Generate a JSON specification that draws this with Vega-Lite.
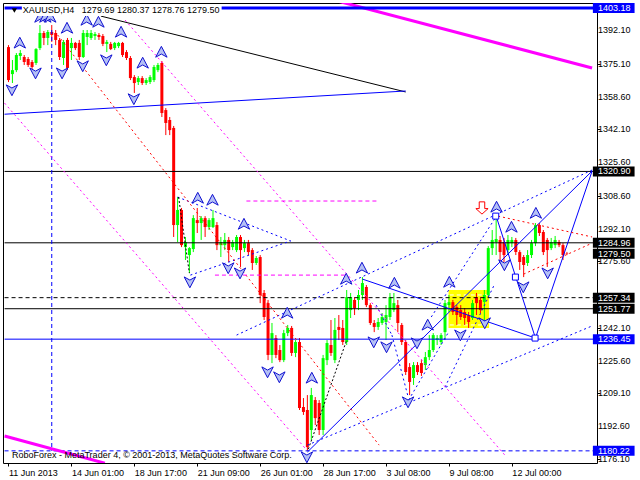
{
"$schema":"https://vega.github.io/schema/vega-lite/v6.json",
"width":594,"height":460,
"autosize":{"type":"none"},
"padding":{"left":3,"top":3,"right":43,"bottom":17},
"background":"white",
"config":{"view":{"stroke":"#000000","strokeWidth":1},"axis":{"labelFont":"Liberation Sans","labelFontSize":9,"labelColor":"#000000","tickColor":"#000000"}},
"datasets":{
"bars":[
{"i":0,"o":1383.5,"h":1384.5,"l":1365.9,"c":1366.9},
{"i":1,"o":1369.9,"h":1377.0,"l":1365.4,"c":1371.9},
{"i":2,"o":1371.9,"h":1380.5,"l":1370.9,"c":1379.5},
{"i":3,"o":1379.0,"h":1382.0,"l":1377.0,"c":1380.5},
{"i":4,"o":1378.5,"h":1379.5,"l":1374.5,"c":1376.0},
{"i":5,"o":1377.5,"h":1378.5,"l":1373.5,"c":1374.5},
{"i":6,"o":1376.0,"h":1377.0,"l":1371.9,"c":1373.5},
{"i":7,"o":1375.5,"h":1383.0,"l":1374.5,"c":1382.5},
{"i":8,"o":1383.0,"h":1394.6,"l":1382.0,"c":1390.6},
{"i":9,"o":1390.6,"h":1391.6,"l":1384.5,"c":1388.1},
{"i":10,"o":1388.1,"h":1392.1,"l":1384.5,"c":1391.1},
{"i":11,"o":1391.1,"h":1394.6,"l":1386.1,"c":1389.6},
{"i":12,"o":1390.6,"h":1392.1,"l":1384.5,"c":1387.1},
{"i":13,"o":1387.1,"h":1388.1,"l":1377.0,"c":1378.5},
{"i":14,"o":1378.0,"h":1387.1,"l":1374.5,"c":1386.1},
{"i":15,"o":1387.1,"h":1388.1,"l":1371.9,"c":1373.0},
{"i":16,"o":1383.0,"h":1388.1,"l":1377.0,"c":1385.6},
{"i":17,"o":1385.6,"h":1386.1,"l":1382.0,"c":1383.0},
{"i":18,"o":1385.6,"h":1387.1,"l":1377.0,"c":1378.5},
{"i":19,"o":1378.5,"h":1392.1,"l":1378.0,"c":1390.6},
{"i":20,"o":1388.6,"h":1392.1,"l":1384.5,"c":1390.6},
{"i":21,"o":1388.1,"h":1392.1,"l":1387.1,"c":1390.6},
{"i":22,"o":1389.1,"h":1391.1,"l":1387.1,"c":1390.1},
{"i":23,"o":1389.6,"h":1390.6,"l":1387.1,"c":1388.6},
{"i":24,"o":1389.1,"h":1390.1,"l":1384.0,"c":1385.1},
{"i":25,"o":1385.1,"h":1387.1,"l":1381.0,"c":1386.1},
{"i":26,"o":1385.1,"h":1386.1,"l":1382.0,"c":1382.5},
{"i":27,"o":1383.0,"h":1386.1,"l":1382.0,"c":1385.6},
{"i":28,"o":1384.0,"h":1386.1,"l":1383.0,"c":1385.6},
{"i":29,"o":1385.6,"h":1386.1,"l":1378.5,"c":1379.5},
{"i":30,"o":1381.0,"h":1382.0,"l":1377.0,"c":1378.0},
{"i":31,"o":1378.0,"h":1379.0,"l":1366.9,"c":1367.9},
{"i":32,"o":1368.4,"h":1369.4,"l":1360.4,"c":1365.4},
{"i":33,"o":1365.9,"h":1368.9,"l":1364.4,"c":1367.9},
{"i":34,"o":1367.9,"h":1368.9,"l":1364.4,"c":1365.4},
{"i":35,"o":1365.4,"h":1367.9,"l":1364.4,"c":1366.9},
{"i":36,"o":1365.9,"h":1369.4,"l":1364.9,"c":1368.4},
{"i":37,"o":1366.9,"h":1374.5,"l":1365.9,"c":1373.5},
{"i":38,"o":1371.9,"h":1375.5,"l":1370.9,"c":1374.5},
{"i":39,"o":1375.5,"h":1376.5,"l":1348.3,"c":1350.3},
{"i":40,"o":1351.8,"h":1352.8,"l":1339.2,"c":1345.3},
{"i":41,"o":1346.8,"h":1348.3,"l":1339.2,"c":1341.7},
{"i":42,"o":1342.8,"h":1343.8,"l":1287.9,"c":1293.9},
{"i":43,"o":1293.9,"h":1308.0,"l":1285.3,"c":1301.5},
{"i":44,"o":1301.5,"h":1302.5,"l":1282.8,"c":1283.8},
{"i":45,"o":1282.8,"h":1287.9,"l":1276.3,"c":1285.3},
{"i":46,"o":1278.8,"h":1282.8,"l":1269.7,"c":1282.3},
{"i":47,"o":1281.8,"h":1298.9,"l":1280.3,"c":1297.4},
{"i":48,"o":1296.4,"h":1302.5,"l":1289.9,"c":1294.9},
{"i":49,"o":1294.9,"h":1298.4,"l":1286.4,"c":1297.4},
{"i":50,"o":1297.4,"h":1298.4,"l":1287.9,"c":1292.9},
{"i":51,"o":1292.9,"h":1297.4,"l":1291.4,"c":1296.4},
{"i":52,"o":1292.9,"h":1301.5,"l":1292.4,"c":1297.4},
{"i":53,"o":1293.9,"h":1295.4,"l":1281.3,"c":1283.8},
{"i":54,"o":1283.8,"h":1287.9,"l":1277.8,"c":1285.3},
{"i":55,"o":1283.8,"h":1289.9,"l":1281.3,"c":1286.4},
{"i":56,"o":1286.4,"h":1287.9,"l":1275.3,"c":1281.3},
{"i":57,"o":1282.8,"h":1286.4,"l":1281.3,"c":1285.3},
{"i":58,"o":1281.3,"h":1288.9,"l":1280.3,"c":1287.9},
{"i":59,"o":1287.9,"h":1288.9,"l":1272.8,"c":1281.3},
{"i":60,"o":1282.3,"h":1286.4,"l":1280.3,"c":1284.8},
{"i":61,"o":1284.8,"h":1286.4,"l":1278.8,"c":1280.3},
{"i":62,"o":1281.3,"h":1282.3,"l":1271.3,"c":1274.8},
{"i":63,"o":1274.8,"h":1278.3,"l":1273.8,"c":1277.3},
{"i":64,"o":1277.8,"h":1278.8,"l":1254.6,"c":1258.7},
{"i":65,"o":1259.7,"h":1261.2,"l":1246.1,"c":1247.6},
{"i":66,"o":1254.6,"h":1256.2,"l":1225.9,"c":1228.5},
{"i":67,"o":1228.5,"h":1244.6,"l":1224.4,"c":1239.5},
{"i":68,"o":1237.0,"h":1238.5,"l":1226.9,"c":1228.5},
{"i":69,"o":1231.0,"h":1233.5,"l":1224.9,"c":1225.9},
{"i":70,"o":1225.9,"h":1241.1,"l":1224.9,"c":1239.5},
{"i":71,"o":1239.5,"h":1243.6,"l":1238.0,"c":1242.1},
{"i":72,"o":1242.1,"h":1243.1,"l":1228.0,"c":1229.5},
{"i":73,"o":1229.5,"h":1236.0,"l":1227.4,"c":1235.0},
{"i":74,"o":1235.0,"h":1237.0,"l":1200.8,"c":1201.8},
{"i":75,"o":1202.3,"h":1206.8,"l":1198.3,"c":1199.8},
{"i":76,"o":1200.8,"h":1208.3,"l":1180.22,"c":1182.1},
{"i":77,"o":1190.7,"h":1211.9,"l":1185.7,"c":1208.3},
{"i":78,"o":1205.8,"h":1207.3,"l":1193.2,"c":1196.7},
{"i":79,"o":1204.3,"h":1205.8,"l":1188.2,"c":1190.7},
{"i":80,"o":1190.7,"h":1228.5,"l":1188.2,"c":1226.9},
{"i":81,"o":1225.9,"h":1236.0,"l":1223.4,"c":1234.5},
{"i":82,"o":1233.5,"h":1246.1,"l":1228.0,"c":1229.5},
{"i":83,"o":1225.9,"h":1247.1,"l":1224.4,"c":1241.1},
{"i":84,"o":1242.6,"h":1248.6,"l":1236.0,"c":1241.1},
{"i":85,"o":1242.1,"h":1246.1,"l":1233.5,"c":1235.0},
{"i":86,"o":1235.0,"h":1261.2,"l":1233.5,"c":1257.6},
{"i":87,"o":1251.1,"h":1259.7,"l":1247.1,"c":1257.6},
{"i":88,"o":1256.2,"h":1257.6,"l":1248.6,"c":1252.1},
{"i":89,"o":1256.2,"h":1261.2,"l":1251.1,"c":1258.7},
{"i":90,"o":1258.7,"h":1267.7,"l":1256.2,"c":1264.7},
{"i":91,"o":1262.7,"h":1263.7,"l":1252.6,"c":1253.6},
{"i":92,"o":1253.6,"h":1254.6,"l":1243.6,"c":1244.6},
{"i":93,"o":1244.6,"h":1246.1,"l":1240.0,"c":1242.6},
{"i":94,"o":1242.6,"h":1247.1,"l":1241.1,"c":1245.1},
{"i":95,"o":1244.6,"h":1249.6,"l":1243.6,"c":1247.6},
{"i":96,"o":1245.1,"h":1253.6,"l":1236.0,"c":1248.6},
{"i":97,"o":1247.6,"h":1259.7,"l":1246.1,"c":1257.6},
{"i":98,"o":1251.1,"h":1259.7,"l":1250.1,"c":1254.6},
{"i":99,"o":1253.6,"h":1256.2,"l":1240.0,"c":1244.6},
{"i":100,"o":1243.6,"h":1244.6,"l":1233.5,"c":1235.0},
{"i":101,"o":1235.0,"h":1236.0,"l":1218.4,"c":1219.9},
{"i":102,"o":1222.4,"h":1224.4,"l":1208.3,"c":1214.9},
{"i":103,"o":1216.9,"h":1224.9,"l":1213.4,"c":1223.4},
{"i":104,"o":1223.4,"h":1224.9,"l":1218.4,"c":1219.9},
{"i":105,"o":1224.4,"h":1225.9,"l":1217.9,"c":1219.4},
{"i":106,"o":1223.4,"h":1230.0,"l":1220.9,"c":1227.4},
{"i":107,"o":1227.4,"h":1238.5,"l":1225.9,"c":1231.0},
{"i":108,"o":1231.0,"h":1239.5,"l":1230.0,"c":1238.5},
{"i":109,"o":1236.0,"h":1238.5,"l":1233.5,"c":1237.0},
{"i":110,"o":1235.0,"h":1239.5,"l":1233.5,"c":1238.5},
{"i":111,"o":1240.0,"h":1256.2,"l":1236.0,"c":1254.6},
{"i":112,"o":1253.6,"h":1258.7,"l":1250.1,"c":1255.1},
{"i":113,"o":1255.1,"h":1256.2,"l":1248.6,"c":1250.1},
{"i":114,"o":1252.6,"h":1253.6,"l":1243.6,"c":1248.6},
{"i":115,"o":1251.1,"h":1253.6,"l":1246.1,"c":1247.6},
{"i":116,"o":1250.1,"h":1252.1,"l":1243.6,"c":1247.1},
{"i":117,"o":1248.6,"h":1250.1,"l":1242.1,"c":1245.1},
{"i":118,"o":1247.1,"h":1256.2,"l":1246.1,"c":1254.6},
{"i":119,"o":1257.6,"h":1259.7,"l":1248.6,"c":1254.6},
{"i":120,"o":1256.2,"h":1257.6,"l":1249.6,"c":1251.1},
{"i":121,"o":1255.2,"h":1261.2,"l":1246.1,"c":1258.7},
{"i":122,"o":1258.7,"h":1283.3,"l":1257.6,"c":1282.3},
{"i":123,"o":1282.3,"h":1291.4,"l":1278.8,"c":1286.4},
{"i":124,"o":1285.3,"h":1298.9,"l":1278.8,"c":1286.9},
{"i":125,"o":1286.4,"h":1288.4,"l":1275.3,"c":1280.3},
{"i":126,"o":1285.3,"h":1287.4,"l":1275.3,"c":1278.8},
{"i":127,"o":1281.3,"h":1288.9,"l":1278.8,"c":1286.4},
{"i":128,"o":1284.8,"h":1287.9,"l":1282.8,"c":1286.4},
{"i":129,"o":1286.4,"h":1287.4,"l":1278.8,"c":1280.3},
{"i":130,"o":1280.3,"h":1281.3,"l":1271.3,"c":1275.3},
{"i":131,"o":1277.8,"h":1278.8,"l":1267.7,"c":1273.8},
{"i":132,"o":1274.8,"h":1281.3,"l":1273.3,"c":1278.8},
{"i":133,"o":1278.8,"h":1286.4,"l":1277.3,"c":1284.8},
{"i":134,"o":1284.8,"h":1294.9,"l":1283.3,"c":1293.9},
{"i":135,"o":1293.9,"h":1294.9,"l":1288.4,"c":1289.9},
{"i":136,"o":1290.4,"h":1291.4,"l":1278.8,"c":1280.3},
{"i":137,"o":1286.4,"h":1287.4,"l":1272.8,"c":1281.3},
{"i":138,"o":1282.3,"h":1287.4,"l":1281.3,"c":1285.3},
{"i":139,"o":1283.8,"h":1288.4,"l":1282.3,"c":1286.4},
{"i":140,"o":1285.3,"h":1286.4,"l":1282.8,"c":1283.8},
{"i":141,"o":1283.8,"h":1284.8,"l":1276.3,"c":1278.8},
{"i":142,"o":1279.69,"h":1280.37,"l":1278.76,"c":1279.5}
]
},
"layer":[
{"data":{"values":[{"a":111.9,"b":122.2,"p":1261.2,"q":1242.1}]},
 "mark":{"type":"rect","color":"#ffff00","clip":true},
 "encoding":{
  "x":{"field":"a","type":"quantitative","scale":{"domain":[-0.125,148.375],"nice":false,"zero":false},
   "axis":{"values":[0,16,32,48,64,80,96,112,128],"labelExpr":"['11 Jun 2013','14 Jun 01:00','18 Jun 17:00','21 Jun 09:00','26 Jun 01:00','28 Jun 17:00','3 Jul 08:00','9 Jul 08:00','12 Jul 00:00'][round(datum.value/16)]","title":null,"domain":false,"grid":false,"ticks":true,"tickSize":3,"labelAlign":"left","labelBaseline":"top","labelPadding":2,"labelOverlap":false,"labelFlush":false,"labelBound":false}},
  "x2":{"field":"b"},
  "y":{"field":"p","type":"quantitative","scale":{"domain":[1174.1,1405.7],"nice":false,"zero":false},
   "axis":{"orient":"right","values":[1392.1,1375.1,1358.6,1342.1,1325.6,1308.6,1292.1,1275.6,1259.1,1242.1,1225.6,1209.1,1192.6,1176.1],"labels":false,"title":null,"domain":false,"grid":false,"ticks":true,"tickSize":3}},
  "y2":{"field":"q"}}},
{"data":{"values":[{"a":112.2,"b":121.9,"p":1258.7,"q":1258.7},{"a":112.2,"b":121.9,"p":1243.6,"q":1243.6}]},
 "mark":{"type":"rule","clip":true,"color":"#ffffff","strokeWidth":1,"strokeDash":[4,3]},
 "encoding":{"x":{"field":"a","type":"quantitative","scale":{"domain":[-0.125,148.375],"nice":false,"zero":false}},"x2":{"field":"b"},"y":{"field":"p","type":"quantitative","scale":{"domain":[1174.1,1405.7],"nice":false,"zero":false}},"y2":{"field":"q"}}},
{"data":{"name":"bars"},
 "mark":{"type":"rule","clip":true,"strokeWidth":1},
 "encoding":{"x":{"field":"i","type":"quantitative","scale":{"domain":[-0.125,148.375],"nice":false,"zero":false}},"y":{"field":"l","type":"quantitative","scale":{"domain":[1174.1,1405.7],"nice":false,"zero":false}},"y2":{"field":"h"},
  "color":{"condition":{"test":"datum.c>=datum.o","value":"#00ff00"},"value":"#ff0000"}}},
{"data":{"name":"bars"},
 "mark":{"type":"bar","clip":true,"width":3},
 "encoding":{"x":{"field":"i","type":"quantitative","scale":{"domain":[-0.125,148.375],"nice":false,"zero":false}},"y":{"field":"o","type":"quantitative","scale":{"domain":[1174.1,1405.7],"nice":false,"zero":false}},"y2":{"field":"c"},
  "color":{"condition":{"test":"datum.c>=datum.o","value":"#00ff00"},"value":"#ff0000"}}},
{"data":{"values":[{"a":-1,"b":150,"p":1320.9,"q":1320.9},{"a":-1,"b":150,"p":1284.96,"q":1284.96},{"a":-1,"b":150,"p":1251.77,"q":1251.77},{"a":23.5,"b":101,"p":1399.1,"q":1360.9}]},
 "mark":{"type":"rule","clip":true,"color":"#000000","strokeWidth":1},
 "encoding":{"x":{"field":"a","type":"quantitative","scale":{"domain":[-0.125,148.375],"nice":false,"zero":false}},"x2":{"field":"b"},"y":{"field":"p","type":"quantitative","scale":{"domain":[1174.1,1405.7],"nice":false,"zero":false}},"y2":{"field":"q"}}},
{"data":{"values":[{"a":-1,"b":150,"p":1257.34,"q":1257.34}]},
 "mark":{"type":"rule","clip":true,"color":"#000000","strokeWidth":1,"strokeDash":[4,3]},
 "encoding":{"x":{"field":"a","type":"quantitative","scale":{"domain":[-0.125,148.375],"nice":false,"zero":false}},"x2":{"field":"b"},"y":{"field":"p","type":"quantitative","scale":{"domain":[1174.1,1405.7],"nice":false,"zero":false}},"y2":{"field":"q"}}},
{"data":{"values":[{"a":-1,"b":150,"p":1236.45,"q":1236.45},{"a":-1,"b":101,"p":1349.7,"q":1361.4},{"a":90,"b":134,"p":1266.7,"q":1237.0},{"a":124,"b":129,"p":1298.4,"q":1267.7},{"a":129,"b":134,"p":1267.7,"q":1237.0},{"a":134,"b":148.4,"p":1237.0,"q":1321.1},{"a":76,"b":148.4,"p":1179.6,"q":1321.1}]},
 "mark":{"type":"rule","clip":true,"color":"#0000ff","strokeWidth":1},
 "encoding":{"x":{"field":"a","type":"quantitative","scale":{"domain":[-0.125,148.375],"nice":false,"zero":false}},"x2":{"field":"b"},"y":{"field":"p","type":"quantitative","scale":{"domain":[1174.1,1405.7],"nice":false,"zero":false}},"y2":{"field":"q"}}},
{"data":{"values":[{"a":-1,"b":150,"p":1180.22,"q":1180.22},{"a":11,"b":11,"p":1392.1,"q":1180.22}]},
 "mark":{"type":"rule","clip":true,"color":"#0000ff","strokeWidth":1,"strokeDash":[4,3]},
 "encoding":{"x":{"field":"a","type":"quantitative","scale":{"domain":[-0.125,148.375],"nice":false,"zero":false}},"x2":{"field":"b"},"y":{"field":"p","type":"quantitative","scale":{"domain":[1174.1,1405.7],"nice":false,"zero":false}},"y2":{"field":"q"}}},
{"data":{"values":[{"a":43,"b":71.75,"p":1308.0,"q":1285.9},{"a":46.25,"b":71.75,"p":1268.7,"q":1285.9},{"a":58,"b":148.4,"p":1238.5,"q":1321.6},{"a":76,"b":148.4,"p":1183.1,"q":1243.1},{"a":107.5,"b":124.25,"p":1247.6,"q":1298.9},{"a":93.5,"b":97.5,"p":1253.6,"q":1238.5},{"a":97.5,"b":101.5,"p":1238.5,"q":1208.3},{"a":101.75,"b":111.75,"p":1205.8,"q":1239.5},{"a":111,"b":123.5,"p":1212.3,"q":1263.7}]},
 "mark":{"type":"rule","clip":true,"color":"#0000ff","strokeWidth":1,"strokeDash":[2,3]},
 "encoding":{"x":{"field":"a","type":"quantitative","scale":{"domain":[-0.125,148.375],"nice":false,"zero":false}},"x2":{"field":"b"},"y":{"field":"p","type":"quantitative","scale":{"domain":[1174.1,1405.7],"nice":false,"zero":false}},"y2":{"field":"q"}}},
{"data":{"values":[{"a":43.25,"b":46,"p":1308.0,"q":1269.7},{"a":76.25,"b":86,"p":1181.1,"q":1236.0}]},
 "mark":{"type":"rule","clip":true,"color":"#000000","strokeWidth":1,"strokeDash":[2,2]},
 "encoding":{"x":{"field":"a","type":"quantitative","scale":{"domain":[-0.125,148.375],"nice":false,"zero":false}},"x2":{"field":"b"},"y":{"field":"p","type":"quantitative","scale":{"domain":[1174.1,1405.7],"nice":false,"zero":false}},"y2":{"field":"q"}}},
{"data":{"values":[{"a":12.5,"b":94.25,"p":1389.6,"q":1183.1},{"a":124.5,"b":148.4,"p":1298.4,"q":1287.9},{"a":131,"b":148.4,"p":1269.2,"q":1284.8}]},
 "mark":{"type":"rule","clip":true,"color":"#ff0000","strokeWidth":1,"strokeDash":[2,3]},
 "encoding":{"x":{"field":"a","type":"quantitative","scale":{"domain":[-0.125,148.375],"nice":false,"zero":false}},"x2":{"field":"b"},"y":{"field":"p","type":"quantitative","scale":{"domain":[1174.1,1405.7],"nice":false,"zero":false}},"y2":{"field":"q"}}},
{"data":{"values":[{"a":-1,"b":75.4,"p":1355.3,"q":1181.6},{"a":29.65,"b":126.65,"p":1397.1,"q":1177.1}]},
 "mark":{"type":"rule","clip":true,"color":"#ff00ff","strokeWidth":1,"strokeDash":[2,3]},
 "encoding":{"x":{"field":"a","type":"quantitative","scale":{"domain":[-0.125,148.375],"nice":false,"zero":false}},"x2":{"field":"b"},"y":{"field":"p","type":"quantitative","scale":{"domain":[1174.1,1405.7],"nice":false,"zero":false}},"y2":{"field":"q"}}},
{"data":{"values":[{"a":60.5,"b":94.25,"p":1306.0,"q":1306.0},{"a":52.5,"b":86.25,"p":1268.7,"q":1268.7}]},
 "mark":{"type":"rule","clip":true,"color":"#ff00ff","strokeWidth":1,"strokeDash":[4,3]},
 "encoding":{"x":{"field":"a","type":"quantitative","scale":{"domain":[-0.125,148.375],"nice":false,"zero":false}},"x2":{"field":"b"},"y":{"field":"p","type":"quantitative","scale":{"domain":[1174.1,1405.7],"nice":false,"zero":false}},"y2":{"field":"q"}}},
{"data":{"values":[{"a":-1,"b":24.5,"p":1187.7,"q":1174.0},{"a":84,"b":148.4,"p":1406.5,"q":1373.0}]},
 "mark":{"type":"rule","clip":true,"color":"#ff00ff","strokeWidth":3},
 "encoding":{"x":{"field":"a","type":"quantitative","scale":{"domain":[-0.125,148.375],"nice":false,"zero":false}},"x2":{"field":"b"},"y":{"field":"p","type":"quantitative","scale":{"domain":[1174.1,1405.7],"nice":false,"zero":false}},"y2":{"field":"q"}}},
{"data":{"values":[{"a":-1,"b":150,"p":1403.18,"q":1403.18}]},
 "mark":{"type":"rule","clip":true,"color":"#0000ff","strokeWidth":3},
 "encoding":{"x":{"field":"a","type":"quantitative","scale":{"domain":[-0.125,148.375],"nice":false,"zero":false}},"x2":{"field":"b"},"y":{"field":"p","type":"quantitative","scale":{"domain":[1174.1,1405.7],"nice":false,"zero":false}},"y2":{"field":"q"}}},
{"data":{"values":[{"i":2.875,"p":1385.6},{"i":8.125,"p":1398.6},{"i":9.375,"p":1398.6},{"i":10.625,"p":1398.6},{"i":14.875,"p":1393.1},{"i":19.875,"p":1397.1},{"i":22.875,"p":1396.1},{"i":28.625,"p":1391.1},{"i":34.125,"p":1375.5},{"i":38.875,"p":1381.0},{"i":48.125,"p":1307.5},{"i":51.875,"p":1306.5},{"i":59.875,"p":1294.4},{"i":70.875,"p":1249.6},{"i":77.125,"p":1216.9},{"i":85.875,"p":1266.7},{"i":89.875,"p":1272.3},{"i":98.125,"p":1264.7},{"i":106.6,"p":1243.6},{"i":112.1,"p":1265.2},{"i":124.1,"p":1303.0},{"i":127.9,"p":1292.9},{"i":134.1,"p":1299.9}]},
 "mark":{"type":"point","clip":true,"shape":"M0,-1L1,0.9L0,0.35L-1,0.9Z","filled":true,"fill":"#b4c0f5","stroke":"#1010d0","strokeWidth":1,"size":130,"opacity":1},
 "encoding":{"x":{"field":"i","type":"quantitative","scale":{"domain":[-0.125,148.375],"nice":false,"zero":false}},"y":{"field":"p","type":"quantitative","scale":{"domain":[1174.1,1405.7],"nice":false,"zero":false}}}},
{"data":{"values":[{"i":0.875,"p":1361.9},{"i":6.875,"p":1370.4},{"i":13.625,"p":1370.4},{"i":18.875,"p":1374.0},{"i":24.875,"p":1377.0},{"i":31.875,"p":1357.4},{"i":46.125,"p":1265.2},{"i":55.875,"p":1272.3},{"i":58.875,"p":1269.7},{"i":65.875,"p":1219.9},{"i":68.875,"p":1217.4},{"i":75.875,"p":1177.1},{"i":92.875,"p":1235.0},{"i":96.125,"p":1232.5},{"i":103.875,"p":1234.5},{"i":101.6,"p":1204.8},{"i":114.9,"p":1238.5},{"i":121.1,"p":1244.6},{"i":126.1,"p":1273.8},{"i":130.9,"p":1262.7},{"i":137.1,"p":1269.7}]},
 "mark":{"type":"point","clip":true,"shape":"M0,1L1,-0.9L0,-0.35L-1,-0.9Z","filled":true,"fill":"#b4c0f5","stroke":"#1010d0","strokeWidth":1,"size":130,"opacity":1},
 "encoding":{"x":{"field":"i","type":"quantitative","scale":{"domain":[-0.125,148.375],"nice":false,"zero":false}},"y":{"field":"p","type":"quantitative","scale":{"domain":[1174.1,1405.7],"nice":false,"zero":false}}}},
{"data":{"values":[{"i":123.9,"p":1298.4},{"i":128.9,"p":1267.7},{"i":133.9,"p":1237.0}]},
 "mark":{"type":"point","clip":true,"shape":"square","filled":true,"fill":"#ffffff","stroke":"#0000ff","strokeWidth":1,"size":36,"opacity":1},
 "encoding":{"x":{"field":"i","type":"quantitative","scale":{"domain":[-0.125,148.375],"nice":false,"zero":false}},"y":{"field":"p","type":"quantitative","scale":{"domain":[1174.1,1405.7],"nice":false,"zero":false}}}},
{"data":{"values":[{"i":120.4,"p":1302.5}]},
 "mark":{"type":"point","clip":true,"shape":"M-0.45,-1L0.45,-1L0.45,0.1L1,0.1L0,1L-1,0.1L-0.45,0.1Z","filled":true,"fill":"#ffffff","stroke":"#ff0000","strokeWidth":1,"size":150,"opacity":1},
 "encoding":{"x":{"field":"i","type":"quantitative","scale":{"domain":[-0.125,148.375],"nice":false,"zero":false}},"y":{"field":"p","type":"quantitative","scale":{"domain":[1174.1,1405.7],"nice":false,"zero":false}}}},
{"data":{"values":[{}]},
 "mark":{"type":"rule","color":"#ffffff","strokeWidth":12},
 "encoding":{"x":{"datum":3.4,"type":"quantitative","scale":{"domain":[-0.125,148.375],"nice":false,"zero":false}},"x2":{"datum":54.2},"y":{"datum":1402.2,"type":"quantitative","scale":{"domain":[1174.1,1405.7],"nice":false,"zero":false}}}},
{"data":{"values":[{}]},
 "mark":{"type":"point","shape":"triangle-down","filled":true,"color":"#000000","size":28,"opacity":1},
 "encoding":{"x":{"datum":1.5,"type":"quantitative","scale":{"domain":[-0.125,148.375],"nice":false,"zero":false}},"y":{"datum":1401.9,"type":"quantitative","scale":{"domain":[1174.1,1405.7],"nice":false,"zero":false}}}},
{"data":{"values":[{}]},
 "mark":{"type":"text","text":"XAUUSD,H4\u00a0\u00a0 1279.69 1280.37 1278.76 1279.50","align":"left","baseline":"middle","font":"Liberation Sans","fontSize":9,"color":"#000000"},
 "encoding":{"x":{"datum":3.65,"type":"quantitative","scale":{"domain":[-0.125,148.375],"nice":false,"zero":false}},"y":{"datum":1402.0,"type":"quantitative","scale":{"domain":[1174.1,1405.7],"nice":false,"zero":false}}}},
{"data":{"values":[{}]},
 "mark":{"type":"text","text":"RoboForex - MetaTrader 4, © 2001-2013, MetaQuotes Software Corp.","align":"left","baseline":"middle","font":"Liberation Sans","fontSize":9,"color":"#000000"},
 "encoding":{"x":{"datum":0.875,"type":"quantitative","scale":{"domain":[-0.125,148.375],"nice":false,"zero":false}},"y":{"datum":1178.1,"type":"quantitative","scale":{"domain":[1174.1,1405.7],"nice":false,"zero":false}}}},
{"data":{"values":[{"p":1392.1},{"p":1375.1},{"p":1358.6},{"p":1342.1},{"p":1325.6},{"p":1308.6},{"p":1292.1},{"p":1275.6},{"p":1242.1},{"p":1225.6},{"p":1209.1},{"p":1192.6},{"p":1176.1}]},
 "mark":{"type":"text","align":"left","baseline":"middle","font":"Liberation Sans","fontSize":9,"color":"#000000"},
 "encoding":{"x":{"datum":149.9,"type":"quantitative","scale":{"domain":[-0.125,148.375],"nice":false,"zero":false}},"y":{"field":"p","type":"quantitative","scale":{"domain":[1174.1,1405.7],"nice":false,"zero":false}},"text":{"field":"p","type":"quantitative","format":".2f"}}},
{"data":{"values":[{"p":1403.18},{"p":1236.45},{"p":1180.22}]},
 "mark":{"type":"rule","color":"#0000ff","strokeWidth":10},
 "encoding":{"x":{"datum":148.6,"type":"quantitative","scale":{"domain":[-0.125,148.375],"nice":false,"zero":false}},"x2":{"datum":159.2},"y":{"field":"p","type":"quantitative","scale":{"domain":[1174.1,1405.7],"nice":false,"zero":false}}}},
{"data":{"values":[{"p":1320.9},{"p":1284.96},{"p":1279.5},{"p":1257.34},{"p":1251.77}]},
 "mark":{"type":"rule","color":"#000000","strokeWidth":10},
 "encoding":{"x":{"datum":148.6,"type":"quantitative","scale":{"domain":[-0.125,148.375],"nice":false,"zero":false}},"x2":{"datum":159.2},"y":{"field":"p","type":"quantitative","scale":{"domain":[1174.1,1405.7],"nice":false,"zero":false}}}},
{"data":{"values":[{"p":1403.18},{"p":1320.9},{"p":1284.96},{"p":1279.5},{"p":1257.34},{"p":1251.77},{"p":1236.45},{"p":1180.22}]},
 "mark":{"type":"text","align":"left","baseline":"middle","font":"Liberation Sans","fontSize":9,"color":"#ffffff"},
 "encoding":{"x":{"datum":149.9,"type":"quantitative","scale":{"domain":[-0.125,148.375],"nice":false,"zero":false}},"y":{"field":"p","type":"quantitative","scale":{"domain":[1174.1,1405.7],"nice":false,"zero":false}},"text":{"field":"p","type":"quantitative","format":".2f"}}}
]
}
